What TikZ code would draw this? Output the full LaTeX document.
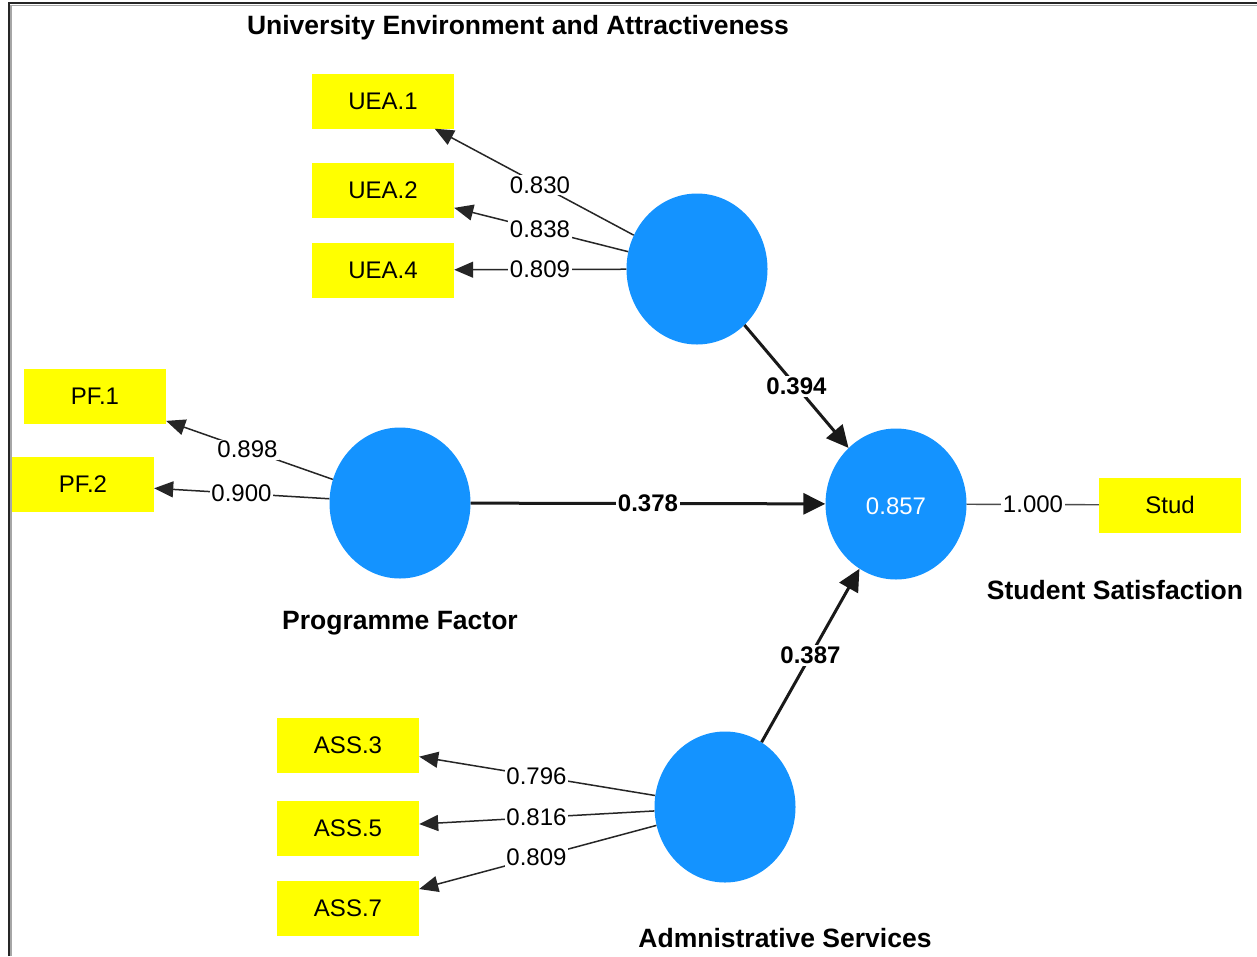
\documentclass[tikz,border=0pt]{standalone}
\usepackage{fontspec}
\setmainfont{Liberation Sans}
\usetikzlibrary{arrows.meta,calc,shapes.geometric}
\definecolor{lvblue}{RGB}{20,147,255}
\definecolor{indyel}{RGB}{255,255,0}
\begin{document}
\begin{tikzpicture}[x=1pt,y=-1pt,
 lv/.style={ellipse,fill=lvblue,minimum width=141pt,minimum height=151pt,inner sep=0pt},
 ind/.style={rectangle,fill=indyel,minimum width=142pt,minimum height=55pt,inner sep=0pt,font=\fontsize{24}{24}\selectfont},
 refl/.style={draw=black!85,line width=1.5pt,-{Triangle[length=19pt,width=16pt]}},
 strc/.style={draw=black!90,line width=3pt,-{Triangle[length=22pt,width=21pt]}},
 plainln/.style={draw=black!70,line width=1.4pt},
 wlbl/.style={fill=white,inner sep=1.5pt,font=\fontsize{24}{24}\selectfont},
 blbl/.style={fill=white,inner sep=1.5pt,font=\bfseries\fontsize{24}{24}\selectfont},
 ttl/.style={font=\bfseries\fontsize{26.5}{26.5}\selectfont}]
\useasboundingbox (0,0) rectangle (1257,956);
\fill[white] (0,0) rectangle (1257,956);
% frame
\draw[black!35,line width=1.5pt] (11,956) -- (11,5.5) -- (1257,5.5);
\draw[black!85,line width=2.2pt] (9,956) -- (9,3) -- (1257,3);

% latent variables
\node[lv] (uea) at (697,269) {};
\node[lv] (pf) at (400,503) {};
\node[lv] (ss) at (896,504) {};
\node[lv] (as) at (725,807) {};
\node[text=white,font=\fontsize{24}{24}\selectfont] (r2) at (896,506) {0.857};

% indicators
\node[ind] (uea1) at (383,101) {UEA.1};
\node[ind] (uea2) at (383,190) {UEA.2};
\node[ind] (uea4) at (383,270) {UEA.4};
\node[ind] (pf1) at (95,396) {PF.1};
\node[ind] (pf2) at (83,484) {PF.2};
\node[ind] (ass3) at (348,745) {ASS.3};
\node[ind] (ass5) at (348,828) {ASS.5};
\node[ind] (ass7) at (348,908) {ASS.7};
\node[ind] (stud) at (1170,505) {Stud};

% titles
\node[ttl] (tuea) at (518,28) {University Environment and Attractiveness};
\node[ttl] (tpf) at (400,623) {Programme Factor};
\node[ttl] (tss) at (1115,590) {Student Satisfaction};
\node[ttl] (tas) at (785,938) {Admnistrative Services};

% outer loadings
\draw[refl] (uea) -- (uea1);
\draw[refl] (uea) -- (uea2);
\draw[refl] (uea) -- (uea4);
\draw[refl] (pf) -- (pf1);
\draw[refl] (pf) -- (pf2);
\draw[refl] (as) -- (ass3);
\draw[refl] (as) -- (ass5);
\draw[refl] (as) -- (ass7);
\draw[plainln] (ss) -- (stud);

\node[wlbl] (l1) at ($(uea.center)!0.5!(uea1.center)$) {0.830};
\node[wlbl] (l2) at ($(uea.center)!0.5!(uea2.center)$) {0.838};
\node[wlbl] (l3) at ($(uea.center)!0.5!(uea4.center)$) {0.809};
\node[wlbl] (l4) at ($(pf.center)!0.5!(pf1.center)$) {0.898};
\node[wlbl] (l5) at ($(pf.center)!0.5!(pf2.center)$) {0.900};
\node[wlbl] (l6) at ($(as.center)!0.5!(ass3.center)$) {0.796};
\node[wlbl] (l7) at ($(as.center)!0.5!(ass5.center)$) {0.816};
\node[wlbl] (l8) at ($(as.center)!0.5!(ass7.center)$) {0.809};
\node[wlbl] (l9) at ($(ss.center)!0.5!(stud.center)$) {1.000};

% path coefficients
\draw[strc] (uea) -- (ss);
\draw[strc] (pf) -- (ss);
\draw[strc] (as) -- (ss);
\node[blbl] (p1) at ($(uea.center)!0.5!(ss.center)$) {0.394};
\node[blbl] (p2) at ($(pf.center)!0.5!(ss.center)$) {0.378};
\node[blbl] (p3) at ($(as.center)!0.5!(ss.center)$) {0.387};
\end{tikzpicture}
\end{document}
